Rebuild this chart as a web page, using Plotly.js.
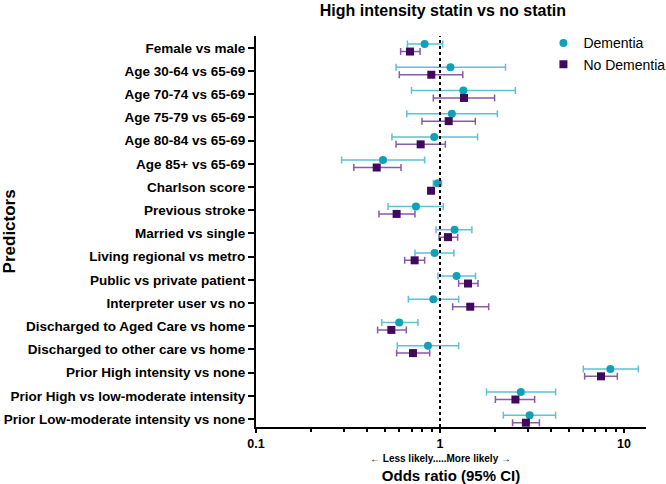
<!DOCTYPE html>
<html>
<head>
<meta charset="utf-8">
<script src="https://cdn.plot.ly/plotly-3.0.1.min.js"></script>
<style>html,body{margin:0;padding:0;background:#fff;}#chart{width:666px;height:484px;}</style>
</head>
<body>
<div id="chart"></div>
<script>
const categories = [
  "Female vs male",
  "Age 30-64 vs 65-69",
  "Age 70-74 vs 65-69",
  "Age 75-79 vs 65-69",
  "Age 80-84 vs 65-69",
  "Age 85+ vs 65-69",
  "Charlson score",
  "Previous stroke",
  "Married vs single",
  "Living regional vs metro",
  "Public vs private patient",
  "Interpreter user vs no",
  "Discharged to Aged Care vs home",
  "Discharged to other care vs home",
  "Prior High intensity vs none",
  "Prior High vs low-moderate intensity",
  "Prior Low-moderate intensity vs none"
];

const dementiaOR = [0.825, 1.14, 1.34, 1.16, 0.93, 0.49, 0.97, 0.74, 1.20, 0.935, 1.23, 0.92, 0.60, 0.86, 8.43, 2.75, 3.07];
const dementiaLo = [0.665, 0.577, 0.70, 0.66, 0.548, 0.292, 0.92, 0.522, 0.951, 0.731, 0.975, 0.673, 0.482, 0.586, 6.01, 1.79, 2.21];
const dementiaHi = [1.034, 2.27, 2.57, 2.05, 1.60, 0.825, 1.02, 1.042, 1.49, 1.19, 1.56, 1.263, 0.759, 1.263, 11.96, 4.25, 4.25];

const noDemOR = [0.687, 0.897, 1.35, 1.115, 0.785, 0.453, 0.894, 0.581, 1.105, 0.728, 1.42, 1.46, 0.544, 0.713, 7.50, 2.57, 2.93];
const noDemLo = [0.611, 0.601, 0.92, 0.798, 0.577, 0.340, 0.875, 0.466, 0.988, 0.643, 1.263, 1.172, 0.458, 0.581, 6.11, 2.00, 2.48];
const noDemHi = [0.779, 1.33, 1.98, 1.556, 1.069, 0.614, 0.915, 0.731, 1.247, 0.825, 1.609, 1.839, 0.656, 0.879, 9.20, 3.27, 3.47];

const xTickVals = [0.1, 1, 10];
const xTickText = ["0.1", "1", "10"];
const xMinorVals = [0.2,0.3,0.4,0.5,0.6,0.7,0.8,0.9,2,3,4,5,6,7,8,9];

const idx = categories.map((c, i) => i);
const off = 0.16;

const font = "Liberation Sans, Arial, sans-serif";

const traceDem = {
  type: "scatter", mode: "markers", name: "Dementia",
  x: dementiaOR, y: idx.map(i => i - off),
  marker: {symbol: "circle", size: 8, color: "#12a0b8"},
  error_x: {type: "data", symmetric: false,
    array: dementiaOR.map((v, i) => dementiaHi[i] - v),
    arrayminus: dementiaOR.map((v, i) => v - dementiaLo[i]),
    color: "#5cc3d3", thickness: 1.5, width: 3.5}
};
const traceNo = {
  type: "scatter", mode: "markers", name: "No Dementia",
  x: noDemOR, y: idx.map(i => i + off),
  marker: {symbol: "square", size: 8, color: "#40095e"},
  error_x: {type: "data", symmetric: false,
    array: noDemOR.map((v, i) => noDemHi[i] - v),
    arrayminus: noDemOR.map((v, i) => v - noDemLo[i]),
    color: "#8a5aa6", thickness: 1.5, width: 3.5}
};

const layout = {
  width: 666, height: 484,
  margin: {l: 256, r: 20, t: 36, b: 57, autoexpand: false},
  paper_bgcolor: "#fff", plot_bgcolor: "#fff",
  font: {family: font, color: "#000"},
  title: {text: "<b>High intensity statin vs no statin</b>", x: 0.665, xref: "container", xanchor: "center",
          y: 0.978, yref: "container", yanchor: "middle", font: {size: 16, family: font, color: "#000"}},
  showlegend: true,
  legend: {x: 0.737, y: 1.022, xanchor: "left", yanchor: "top", bgcolor: "rgba(0,0,0,0)",
           font: {size: 14, family: font, color: "#000"}, tracegroupgap: 0, itemwidth: 30},
  xaxis: {type: "log", range: [-1, 1.1196], showline: true, linecolor: "#000", linewidth: 2,
          ticks: "outside", ticklen: 4, tickwidth: 2, tickcolor: "#000",
          tickmode: "array", tickvals: xTickVals, ticktext: xTickText.map(t => "<b>" + t + "</b>"),
          tickfont: {size: 12.5, family: font, color: "#000"},
          minor: {tickmode: "array", tickvals: xMinorVals, ticks: "outside", ticklen: 3, tickwidth: 2, tickcolor: "#000", showgrid: false},
          showgrid: false, zeroline: false,
          title: {text: "<b>Odds ratio (95% CI)</b>", font: {size: 15, family: font, color: "#000"}, standoff: 26}},
  yaxis: {range: [16.345, -0.51], showline: true, linecolor: "#000", linewidth: 2,
          ticks: "outside", ticklen: 6, tickwidth: 2, tickcolor: "#000",
          tickmode: "array", tickvals: idx, ticktext: categories.map(c => "<b>" + c + "</b>"),
          tickfont: {size: 13.5, family: font, color: "#000"},
          showgrid: false, zeroline: false},
  shapes: [{type: "line", xref: "x", yref: "paper", x0: 1, x1: 1, y0: 0, y1: 1,
            line: {color: "#000", width: 2, dash: "dot"}}],
  annotations: [
    {xref: "x", yref: "paper", x: 0, y: -0.0795, yanchor: "middle", xanchor: "center",
     text: "<b>\u2190 Less likely.....More likely \u2192</b>", showarrow: false,
     font: {size: 10, family: font, color: "#000"}},
    {xref: "paper", yref: "paper", x: -0.631, y: 0.5, xanchor: "center", yanchor: "middle",
     text: "<b>Predictors</b>", textangle: -90, showarrow: false,
     font: {size: 17, family: font, color: "#000"}}
  ]
};

Plotly.newPlot("chart", [traceDem, traceNo], layout, {displayModeBar: false});
</script>
</body>
</html>
